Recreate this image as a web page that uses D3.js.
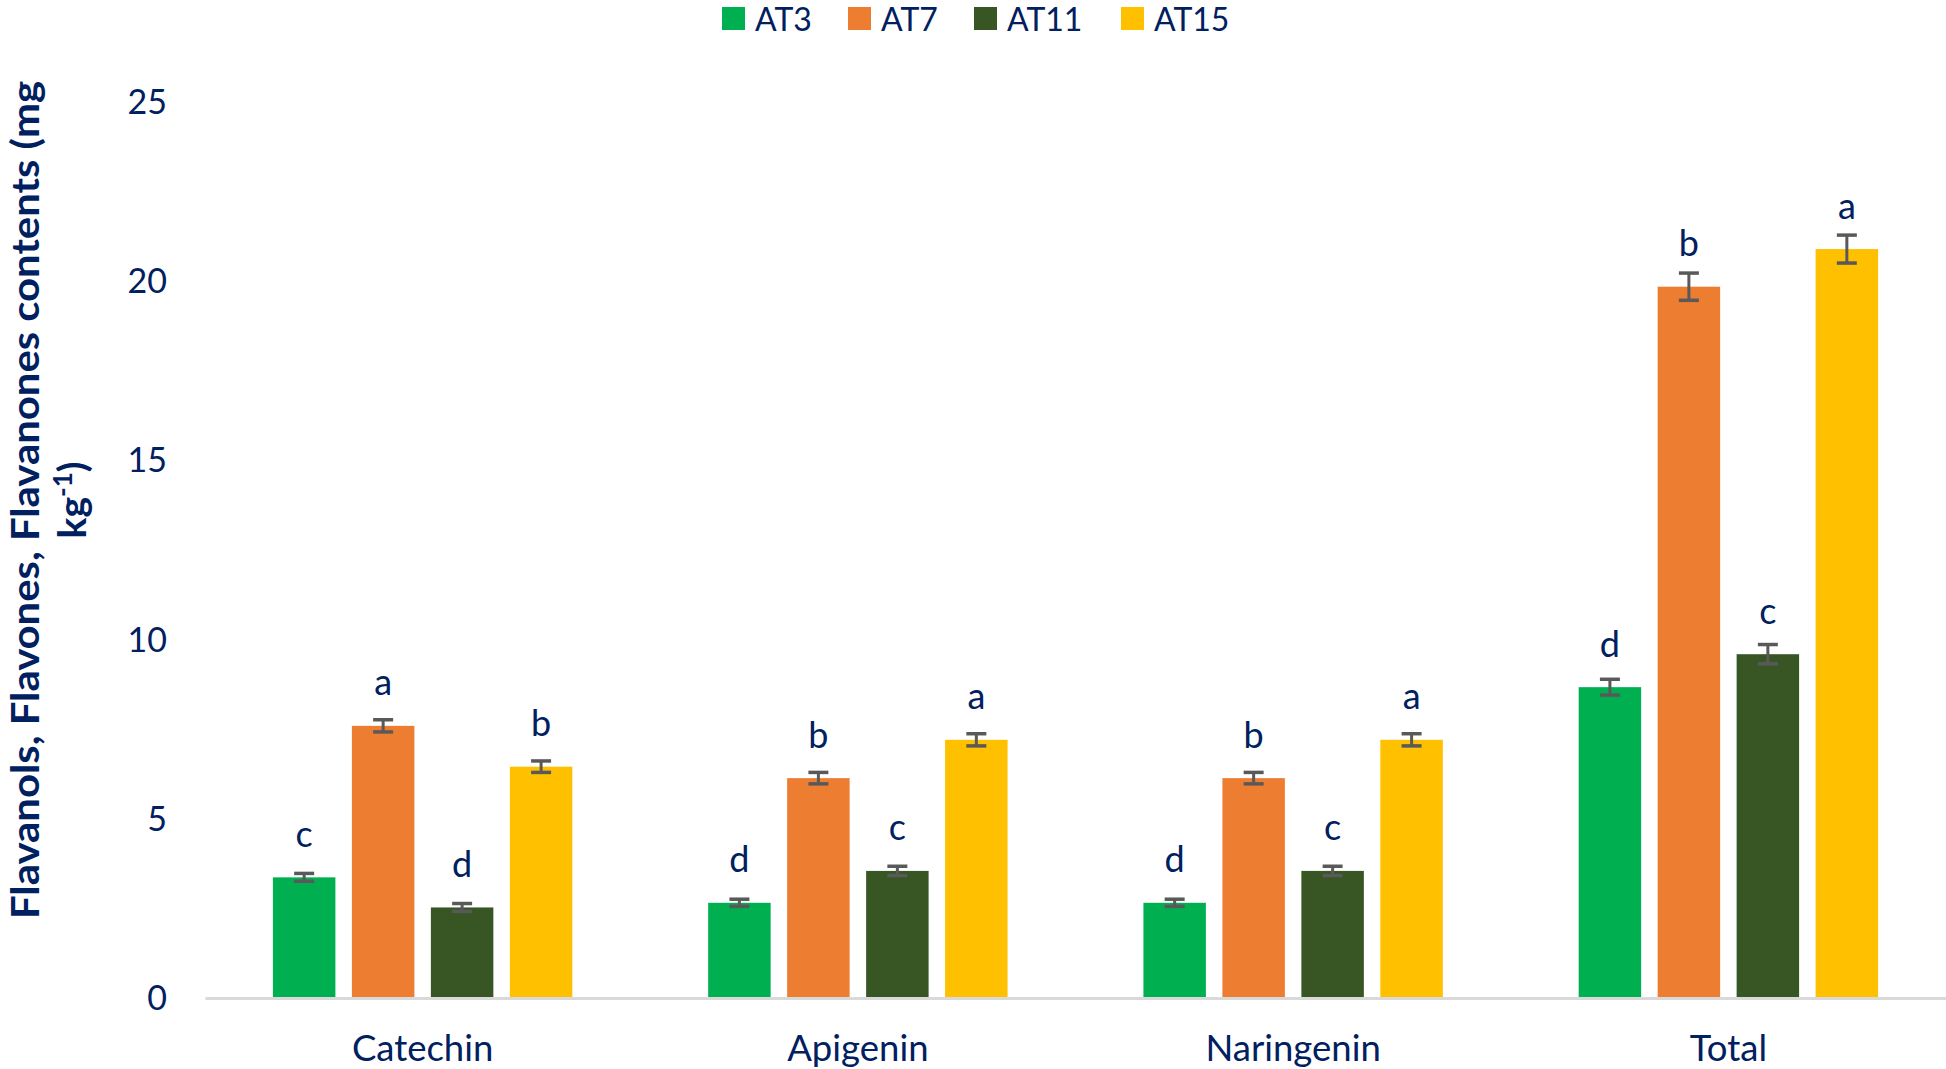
<!DOCTYPE html>
<html>
<head>
<meta charset="utf-8">
<script src="https://cdn.jsdelivr.net/npm/d3@7"></script>
<style>
  html, body { margin: 0; padding: 0; background: #ffffff; }
  svg { display: block; }
</style>
</head>
<body>
<svg id="chart" width="1946" height="1069"></svg>
<script>
// ---- data ----
const categories = ["Catechin", "Apigenin", "Naringenin", "Total"];
const seriesNames = ["AT3", "AT7", "AT11", "AT15"];
const AT3  = [3.34, 2.63, 2.63, 8.65];
const AT7  = [7.57, 6.11, 6.11, 19.83];
const AT11 = [2.50, 3.52, 3.52, 9.57];
const AT15 = [6.43, 7.18, 7.18, 20.88];
const AT3_err  = [0.11, 0.10, 0.10, 0.22];
const AT7_err  = [0.17, 0.16, 0.16, 0.38];
const AT11_err = [0.11, 0.13, 0.13, 0.27];
const AT15_err = [0.16, 0.17, 0.17, 0.39];
const AT3_sig  = ["c", "d", "d", "d"];
const AT7_sig  = ["a", "b", "b", "b"];
const AT11_sig = ["d", "c", "c", "c"];
const AT15_sig = ["b", "a", "a", "a"];
const yTicks = [0, 5, 10, 15, 20, 25];
const colors = ["#00b050", "#ed7d31", "#375623", "#ffc000"];

const values = [AT3, AT7, AT11, AT15];
const errs = [AT3_err, AT7_err, AT11_err, AT15_err];
const sigs = [AT3_sig, AT7_sig, AT11_sig, AT15_sig];

const navy = "#002060";
const font = "Lato, 'Open Sans', sans-serif";

const svg = d3.select("#chart");

const plot = { left: 205, right: 1946, top: 101.5, bottom: 997 };

const x0 = d3.scaleBand().domain(categories).range([plot.left, plot.right]).paddingInner(0).paddingOuter(0);
const x1 = d3.scaleBand().domain(seriesNames).range([0, x0.bandwidth()]).paddingInner(0.209).paddingOuter(0.86);
const y = d3.scaleLinear().domain([0, 25]).range([plot.bottom, plot.top]);

// rows
const rows = [];
seriesNames.forEach((s, si) => {
  categories.forEach((c, ci) => {
    rows.push({ s, si, c, v: values[si][ci], e: errs[si][ci], sig: sigs[si][ci] });
  });
});

// bars
svg.append("g").selectAll("rect").data(rows).join("rect")
  .attr("x", d => x0(d.c) + x1(d.s))
  .attr("y", d => y(d.v))
  .attr("width", x1.bandwidth())
  .attr("height", d => y(0) - y(d.v))
  .attr("fill", d => colors[d.si]);

// x axis line
const xAxis = svg.append("g").attr("transform", `translate(0,${y(0) + 1})`)
  .call(d3.axisBottom(x0).tickSize(0).tickPadding(0));
xAxis.select(".domain").attr("stroke", "#d9d9d9").attr("stroke-width", 3);
xAxis.selectAll("text").remove();

// category labels
svg.append("g").selectAll("text").data(categories).join("text")
  .attr("x", d => x0(d) + x0.bandwidth() / 2)
  .attr("y", 1061)
  .attr("text-anchor", "middle")
  .attr("font-family", font).attr("font-size", 36.5).attr("fill", navy)
  .text(d => d);

// y axis (labels only)
const yAxis = svg.append("g").attr("transform", `translate(${167},0)`)
  .call(d3.axisLeft(y).tickValues(yTicks).tickSize(0).tickPadding(0));
yAxis.select(".domain").remove();
yAxis.selectAll("text")
  .attr("font-family", font).attr("font-size", 34).attr("fill", navy)
  .attr("dy", "0.36em");

// error bars
const eg = svg.append("g").attr("stroke", "#595959").attr("fill", "none");
rows.forEach(d => {
  const cx = x0(d.c) + x1(d.s) + x1.bandwidth() / 2;
  eg.append("line").attr("x1", cx).attr("x2", cx).attr("y1", y(d.v + d.e)).attr("y2", y(d.v - d.e)).attr("stroke-width", 3);
  eg.append("line").attr("x1", cx - 10).attr("x2", cx + 10).attr("y1", y(d.v + d.e)).attr("y2", y(d.v + d.e)).attr("stroke-width", 3.5);
  eg.append("line").attr("x1", cx - 10).attr("x2", cx + 10).attr("y1", y(d.v - d.e)).attr("y2", y(d.v - d.e)).attr("stroke-width", 3.5);
});

// significance letters
svg.append("g").selectAll("text").data(rows).join("text")
  .attr("x", d => x0(d.c) + x1(d.s) + x1.bandwidth() / 2)
  .attr("y", d => y(d.v) - 30.5)
  .attr("text-anchor", "middle")
  .attr("font-family", font).attr("font-size", 36).attr("fill", navy)
  .text(d => d.sig);

// legend
const legendX = [722, 848, 974, 1121];
const lg = svg.append("g");
seriesNames.forEach((s, i) => {
  lg.append("rect").attr("x", legendX[i]).attr("y", 7).attr("width", 23).attr("height", 23).attr("fill", colors[i]);
  lg.append("text").attr("x", legendX[i] + 33).attr("y", 31)
    .attr("font-family", font).attr("font-size", 32).attr("fill", navy).text(s);
});

// y title
const tg = svg.append("g").attr("transform", "translate(0,500) rotate(-90)");
const t1 = tg.append("text").attr("x", 0).attr("y", 39).attr("text-anchor", "middle")
  .attr("font-family", font).attr("font-weight", "bold").attr("font-size", 39).attr("fill", navy)
  .text("Flavanols, Flavones, Flavanones contents (mg");
t1.attr("textLength", 838).attr("lengthAdjust", "spacingAndGlyphs");
const t2 = tg.append("text").attr("x", 0).attr("y", 86).attr("text-anchor", "middle")
  .attr("font-family", font).attr("font-weight", "bold").attr("font-size", 39).attr("fill", navy);
t2.append("tspan").text("kg");
t2.append("tspan").attr("dy", -14).attr("font-size", 26).text("-1");
t2.append("tspan").attr("dy", 14).text(")");
</script>
</body>
</html>
